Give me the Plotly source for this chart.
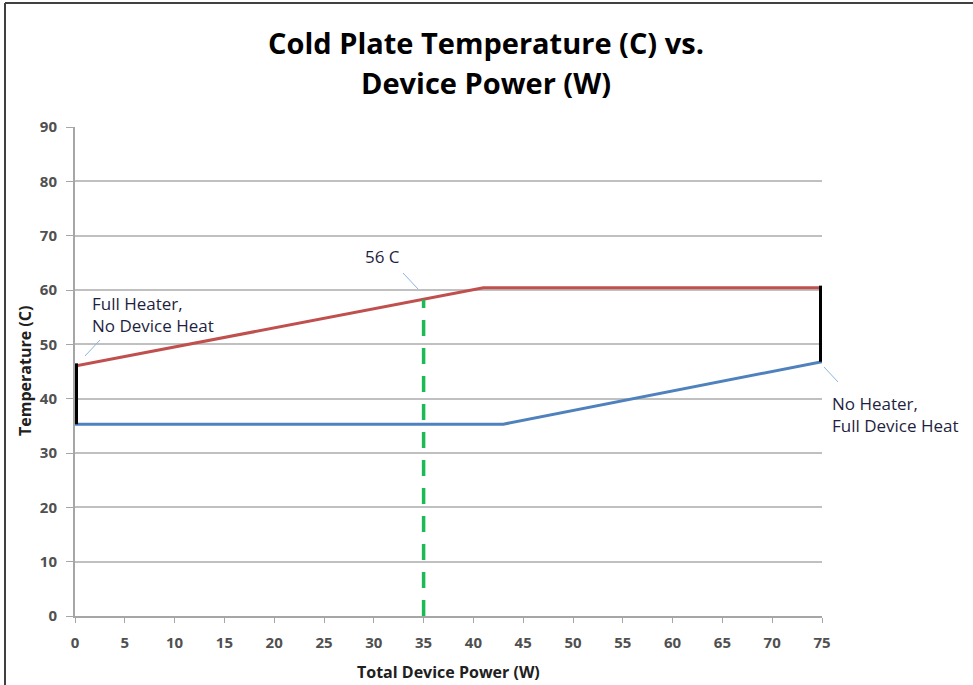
import plotly.graph_objects as go

# Data
heater_x = [0, 41, 75]
heater_y = [46.0, 60.4, 60.4]
device_x = [0, 43, 75]
device_y = [35.3, 35.3, 46.8]
left_bar_x = [0, 0]
left_bar_y = [35.3, 46.5]
right_bar_x = [75, 75]
right_bar_y = [46.8, 60.8]
op_x = [35, 35]
op_y = [0, 58.2]

x_ticks = list(range(0, 80, 5))
y_ticks = list(range(0, 100, 10))

W, H = 973, 685
L, R, T, B = 75, 151, 127, 69

fig = go.Figure()
fig.add_trace(go.Scatter(x=heater_x, y=heater_y, mode="lines",
                         line=dict(color="#C0504D", width=3), showlegend=False))
fig.add_trace(go.Scatter(x=device_x, y=device_y, mode="lines",
                         line=dict(color="#4F81BD", width=3), showlegend=False))
fig.add_trace(go.Scatter(x=left_bar_x, y=left_bar_y, mode="lines",
                         line=dict(color="black", width=6), showlegend=False))
fig.add_trace(go.Scatter(x=right_bar_x, y=right_bar_y, mode="lines",
                         line=dict(color="black", width=6), showlegend=False))
fig.add_trace(go.Scatter(x=op_x, y=op_y, mode="lines",
                         line=dict(color="#1DB954", width=3.5, dash="16px,12px"),
                         showlegend=False))

font_family = "Open Sans, Liberation Sans, sans-serif"
ann_font = dict(family=font_family, size=17, color="#1F1F3F")

def px2x(px):
    return (px - L) / (W - L - R)

def py2y(py):
    return (H - B - py) / (H - T - B)

annotations = [
    dict(text="<b>Cold Plate Temperature (C) vs.</b>", x=px2x(486), y=py2y(42),
         xref="paper", yref="paper", showarrow=False,
         font=dict(family=font_family, size=29, color="black"), xanchor="center", yanchor="middle"),
    dict(text="<b>Device Power (W)</b>", x=px2x(486), y=py2y(83),
         xref="paper", yref="paper", showarrow=False,
         font=dict(family=font_family, size=29, color="black"), xanchor="center", yanchor="middle"),
    dict(text="<b>Total Device Power (W)</b>", x=px2x(448), y=py2y(672),
         xref="paper", yref="paper", showarrow=False,
         font=dict(family=font_family, size=16, color="#202020"), xanchor="center", yanchor="middle"),
    dict(text="<b>Temperature (C)</b>", x=px2x(25), y=py2y(371), textangle=-90,
         xref="paper", yref="paper", showarrow=False,
         font=dict(family=font_family, size=16, color="#202020"), xanchor="center", yanchor="middle"),
    dict(text="56 C", x=px2x(382), y=py2y(256), xref="paper", yref="paper",
         showarrow=False, font=ann_font, xanchor="center", yanchor="middle"),
    dict(text="Full Heater,<br>No Device Heat", x=px2x(90), y=py2y(314),
         xref="paper", yref="paper", showarrow=False, font=ann_font,
         xanchor="left", yanchor="middle", align="left"),
    dict(text="No Heater,<br>Full Device Heat", x=px2x(830), y=py2y(414),
         xref="paper", yref="paper", showarrow=False, font=ann_font,
         xanchor="left", yanchor="middle", align="left"),
]

shapes = [
    # leader lines
    dict(type="line", xref="paper", yref="paper", x0=px2x(403), y0=py2y(273),
         x1=px2x(418), y1=py2y(289), line=dict(color="#8EB4E3", width=1)),
    dict(type="line", xref="paper", yref="paper", x0=px2x(85), y0=py2y(356),
         x1=px2x(100), y1=py2y(340), line=dict(color="#8EB4E3", width=1)),
    dict(type="line", xref="paper", yref="paper", x0=px2x(824), y0=py2y(367),
         x1=px2x(838), y1=py2y(382), line=dict(color="#8EB4E3", width=1)),
    # outer border (top and left)
    dict(type="line", xref="paper", yref="paper", x0=px2x(5), y0=py2y(3),
         x1=px2x(973), y1=py2y(3), line=dict(color="#404040", width=2)),
    dict(type="line", xref="paper", yref="paper", x0=px2x(5), y0=py2y(3),
         x1=px2x(5), y1=py2y(685), line=dict(color="#404040", width=2)),
]

tick_font = dict(family=font_family, size=15, color="#505050", weight="bold")

fig.update_layout(
    width=W, height=H,
    margin=dict(l=L, r=R, t=T, b=B, autoexpand=False),
    paper_bgcolor="white", plot_bgcolor="white",
    annotations=annotations, shapes=shapes,
    xaxis=dict(range=[0, 75], tickvals=x_ticks, ticks="outside", ticklen=5,
               tickcolor="#A6A6A6", showgrid=False, zeroline=False,
               showline=True, linecolor="#A6A6A6", linewidth=2,
               tickfont=tick_font, ticklabelstandoff=7, layer="below traces",
               automargin=False),
    yaxis=dict(range=[0, 90], tickvals=y_ticks, ticks="outside", ticklen=7,
               tickcolor="#A6A6A6", showgrid=True, gridcolor="#C0C0C0", gridwidth=2,
               zeroline=False, showline=True, linecolor="#A6A6A6", linewidth=2,
               tickfont=tick_font, ticklabelstandoff=6, layer="below traces",
               automargin=False),
)

fig.write_html("out.html", config={"displayModeBar": False},
               post_script="document.body.style.margin='0';document.body.style.overflow='hidden';")
